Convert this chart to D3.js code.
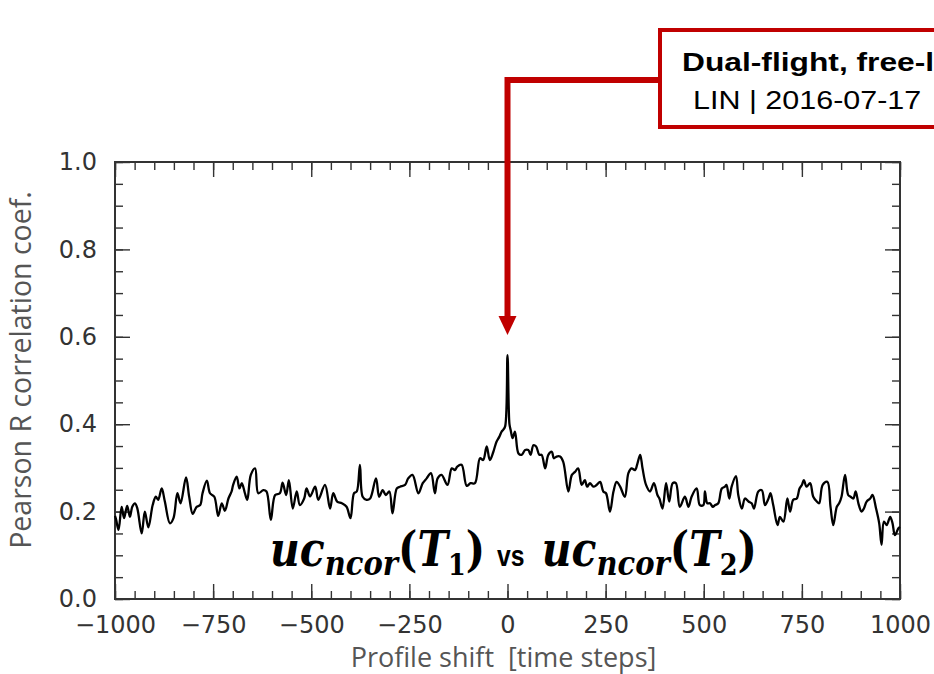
<!DOCTYPE html>
<html>
<head>
<meta charset="utf-8">
<script src="https://cdn.jsdelivr.net/npm/d3@7"></script>
<style>
  body { margin: 0; background: #fff; }
  svg { display: block; }
</style>
</head>
<body>
<svg id="chart" width="934" height="674"></svg>
<script>
// Profile shift (time steps) and the Pearson R coefficient at each shift
const shiftSteps = [
  -1000, -997, -991, -983, -977, -969, -962, -956, -949, -943, -932, -924, -915, -904, -896, -890,
  -881, -873, -860, -851, -841, -833, -819, -811, -802, -792, -783, -777, -766, -758, -747, -737,
  -728, -720, -711, -703, -699, -690, -683, -677, -669, -663, -654, -643, -635, -622, -614, -603,
  -592, -580, -573, -564, -557, -547, -537, -529, -518, -512, -503, -490, -482, -465, -452, -444,
  -434, -422, -410, -400, -391, -384, -376, -369, -359, -350, -335, -327, -318, -310, -301, -293,
  -282, -274, -261, -253, -242, -227, -216, -206, -195, -185, -178, -168, -153, -142, -134, -128,
  -117, -104, -94, -83, -70, -62, -53, -45, -36, -28, -21, -15, -11, -6, 0, 5,
  8, 13, 19, 28, 36, 45, 53, 59, 66, 73, 81, 87, 96, 104, 113, 118,
  125, 134, 142, 155, 164, 172, 180, 189, 197, 203, 210, 219, 227, 236, 244, 251,
  261, 270, 278, 287, 299, 308, 316, 325, 331, 338, 344, 353, 363, 373, 382, 387,
  395, 404, 412, 421, 429, 439, 452, 461, 469, 482, 490, 499, 503, 509, 516, 523,
  529, 537, 546, 554, 558, 565, 571, 582, 588, 597, 605, 614, 622, 628, 639, 648,
  656, 665, 670, 677, 688, 694, 703, 713, 720, 728, 737, 744, 750, 755, 762, 771,
  779, 788, 794, 803, 815, 823, 830, 839, 845, 851, 860, 868, 874, 881, 887, 894,
  902, 908, 915, 924, 930, 939, 947, 953, 959, 966, 975, 981, 987, 996, 1000
];
const pearsonR = [
  0.190, 0.181, 0.158, 0.211, 0.185, 0.213, 0.188, 0.211, 0.219, 0.207, 0.150, 0.200, 0.164, 0.215, 0.234, 0.227,
  0.253, 0.223, 0.173, 0.185, 0.242, 0.219, 0.278, 0.234, 0.195, 0.211, 0.215, 0.242, 0.271, 0.242, 0.234, 0.190,
  0.219, 0.202, 0.230, 0.246, 0.261, 0.280, 0.253, 0.265, 0.242, 0.227, 0.284, 0.299, 0.242, 0.249, 0.246, 0.181,
  0.238, 0.242, 0.266, 0.238, 0.272, 0.207, 0.246, 0.215, 0.230, 0.253, 0.235, 0.257, 0.227, 0.261, 0.207, 0.242,
  0.223, 0.219, 0.211, 0.185, 0.242, 0.246, 0.307, 0.234, 0.227, 0.230, 0.276, 0.234, 0.249, 0.238, 0.246, 0.196,
  0.253, 0.257, 0.261, 0.276, 0.284, 0.242, 0.265, 0.276, 0.288, 0.242, 0.276, 0.284, 0.261, 0.299, 0.295, 0.303,
  0.307, 0.259, 0.265, 0.265, 0.322, 0.318, 0.349, 0.318, 0.337, 0.360, 0.371, 0.383, 0.387, 0.395, 0.558, 0.400,
  0.387, 0.368, 0.383, 0.333, 0.330, 0.341, 0.341, 0.330, 0.352, 0.349, 0.330, 0.330, 0.299, 0.330, 0.337, 0.322,
  0.326, 0.326, 0.314, 0.246, 0.284, 0.291, 0.299, 0.261, 0.272, 0.257, 0.265, 0.257, 0.261, 0.268, 0.246, 0.242,
  0.200, 0.246, 0.268, 0.257, 0.234, 0.288, 0.299, 0.295, 0.310, 0.330, 0.299, 0.261, 0.246, 0.265, 0.238, 0.230,
  0.207, 0.265, 0.223, 0.265, 0.265, 0.211, 0.234, 0.211, 0.234, 0.253, 0.215, 0.215, 0.246, 0.219, 0.219, 0.211,
  0.215, 0.219, 0.253, 0.257, 0.261, 0.230, 0.257, 0.281, 0.238, 0.207, 0.230, 0.223, 0.219, 0.207, 0.246, 0.249,
  0.215, 0.230, 0.242, 0.215, 0.169, 0.188, 0.177, 0.230, 0.200, 0.227, 0.230, 0.253, 0.261, 0.272, 0.257, 0.265,
  0.234, 0.223, 0.219, 0.261, 0.268, 0.211, 0.169, 0.211, 0.219, 0.234, 0.284, 0.238, 0.234, 0.230, 0.246, 0.219,
  0.200, 0.207, 0.223, 0.230, 0.238, 0.207, 0.173, 0.124, 0.177, 0.169, 0.188, 0.173, 0.146, 0.162, 0.165
];

const xTickValues = [-1000, -750, -500, -250, 0, 250, 500, 750, 1000];
const yTickValues = [0.0, 0.2, 0.4, 0.6, 0.8, 1.0];
const xMinorValues = d3.range(-1000, 1001, 50);
const yMinorValues = d3.range(0, 21).map(i => i * 0.05);

const xLabel = "Profile shift  [time steps]";
const yLabel = "Pearson R correlation coef.";
const calloutTitle = "Dual-flight, free-l";
const calloutSub = "LIN | 2016-07-17";
const calloutTarget = 0; // shift pointed at by the arrow

const svg = d3.select("#chart");
const plot = { left: 115, right: 900, top: 162, bottom: 599 };

const x = d3.scaleLinear().domain([-1000, 1000]).range([plot.left, plot.right]);
const y = d3.scaleLinear().domain([0, 1]).range([plot.bottom, plot.top]);

const tickColor = "#333";
const fmtX = d3.format("d");
const fmtY = d3.format(".1f");

function styleAxis(g) {
  g.select(".domain").remove();
  g.selectAll(".tick line").attr("stroke", tickColor).attr("stroke-width", 1.4);
  g.selectAll(".tick text")
    .attr("fill", "#333")
    .style("font-family", "'DejaVu Sans', sans-serif")
    .style("font-size", "24px");
}

// minor ticks on all four sides, pointing inward
svg.append("g").attr("transform", `translate(0,${plot.bottom})`)
  .call(d3.axisBottom(x).tickValues(xMinorValues).tickSize(-8).tickFormat(""))
  .call(styleAxis);
svg.append("g").attr("transform", `translate(0,${plot.top})`)
  .call(d3.axisTop(x).tickValues(xMinorValues).tickSize(-8).tickFormat(""))
  .call(styleAxis);
svg.append("g").attr("transform", `translate(${plot.left},0)`)
  .call(d3.axisLeft(y).tickValues(yMinorValues).tickSize(-8).tickFormat(""))
  .call(styleAxis);
svg.append("g").attr("transform", `translate(${plot.right},0)`)
  .call(d3.axisRight(y).tickValues(yMinorValues).tickSize(-8).tickFormat(""))
  .call(styleAxis);

// major ticks with labels
svg.append("g").attr("transform", `translate(0,${plot.bottom})`)
  .call(d3.axisBottom(x).tickValues(xTickValues).tickSize(-15).tickPadding(17)
    .tickFormat(d => fmtX(d).replace("-", "\u2212")))
  .call(styleAxis);
svg.append("g").attr("transform", `translate(0,${plot.top})`)
  .call(d3.axisTop(x).tickValues(xTickValues).tickSize(-15).tickFormat(""))
  .call(styleAxis);
svg.append("g").attr("transform", `translate(${plot.left},0)`)
  .call(d3.axisLeft(y).tickValues(yTickValues).tickSize(-15).tickPadding(18).tickFormat(fmtY))
  .call(styleAxis);
svg.append("g").attr("transform", `translate(${plot.right},0)`)
  .call(d3.axisRight(y).tickValues(yTickValues).tickSize(-15).tickFormat(""))
  .call(styleAxis);

// frame
svg.append("rect")
  .attr("x", plot.left).attr("y", plot.top)
  .attr("width", plot.right - plot.left).attr("height", plot.bottom - plot.top)
  .attr("fill", "none").attr("stroke", "#333").attr("stroke-width", 2);

// correlation curve
const series = shiftSteps.map((s, i) => ({ s, r: pearsonR[i] }));
svg.append("path")
  .datum(series)
  .attr("fill", "none")
  .attr("stroke", "#000")
  .attr("stroke-width", 2.3)
  .attr("stroke-linejoin", "round")
  .attr("d", d3.line().curve(d3.curveCatmullRom.alpha(0.5)).x(d => x(d.s)).y(d => y(d.r)));

// axis titles
svg.append("text")
  .attr("x", (plot.left + plot.right) / 2 - 4).attr("y", 667)
  .attr("text-anchor", "middle")
  .attr("fill", "#555")
  .style("white-space", "pre")
  .style("font-family", "'Open Sans', sans-serif")
  .style("font-size", "27px")
  .text(xLabel);

svg.append("text")
  .attr("transform", "translate(31,370) rotate(-90)")
  .attr("text-anchor", "middle")
  .attr("fill", "#555")
  .style("font-family", "'Open Sans', sans-serif")
  .style("font-size", "28.5px")
  .text(yLabel);

// series caption in math style
const cap = svg.append("text")
  .attr("x", 270).attr("y", 566)
  .attr("fill", "#000")
  .style("font-family", "'DejaVu Serif', serif")
  .style("font-weight", "bold");

function half(sub, lead) {
  cap.append("tspan").attr("dx", lead).style("font-style", "italic").style("font-size", "48px").text("uc");
  cap.append("tspan").style("font-style", "italic").style("font-size", "34px").attr("dy", 9).text("ncor");
  cap.append("tspan").style("font-size", "48px").attr("dy", -9).text("(");
  cap.append("tspan").style("font-style", "italic").style("font-size", "48px").text("T");
  cap.append("tspan").style("font-size", "30px").attr("dy", 9).text(sub);
  cap.append("tspan").style("font-size", "48px").attr("dy", -9).text(")");
}
half("1", 0);
cap.append("tspan")
  .attr("dx", 14)
  .style("font-family", "'Liberation Sans', Arial, sans-serif")
  .style("font-size", "29px")
  .text("vs");
half("2", 20);

// scale caption to its span
const capW = cap.node().getComputedTextLength() + 34;
const capTarget = 487;
cap.attr("transform", `translate(270,0) scale(${capTarget / capW},1) translate(-270,0)`);

// callout box with arrow
const red = "#c00000";
const ax = x(calloutTarget);
svg.append("path")
  .attr("d", `M660,80 H${ax} V318`)
  .attr("fill", "none").attr("stroke", red).attr("stroke-width", 6)
  .attr("stroke-linejoin", "miter");
svg.append("path")
  .attr("d", `M${ax - 9},316 L${ax + 9},316 L${ax},335 Z`)
  .attr("fill", red);

svg.append("rect")
  .attr("x", 660).attr("y", 30).attr("width", 400).attr("height", 97)
  .attr("fill", "#fff").attr("stroke", red).attr("stroke-width", 4);

svg.append("text")
  .attr("transform", "translate(682,71) scale(1.27,1)")
  .attr("fill", "#000")
  .style("font-family", "'Liberation Sans', Arial, sans-serif")
  .style("font-weight", "bold")
  .style("font-size", "25px")
  .text(calloutTitle);

svg.append("text")
  .attr("transform", "translate(693,109) scale(1.22,1)")
  .attr("fill", "#000")
  .style("font-family", "'Liberation Sans', Arial, sans-serif")
  .style("font-size", "25px")
  .text(calloutSub);
</script>
</body>
</html>
